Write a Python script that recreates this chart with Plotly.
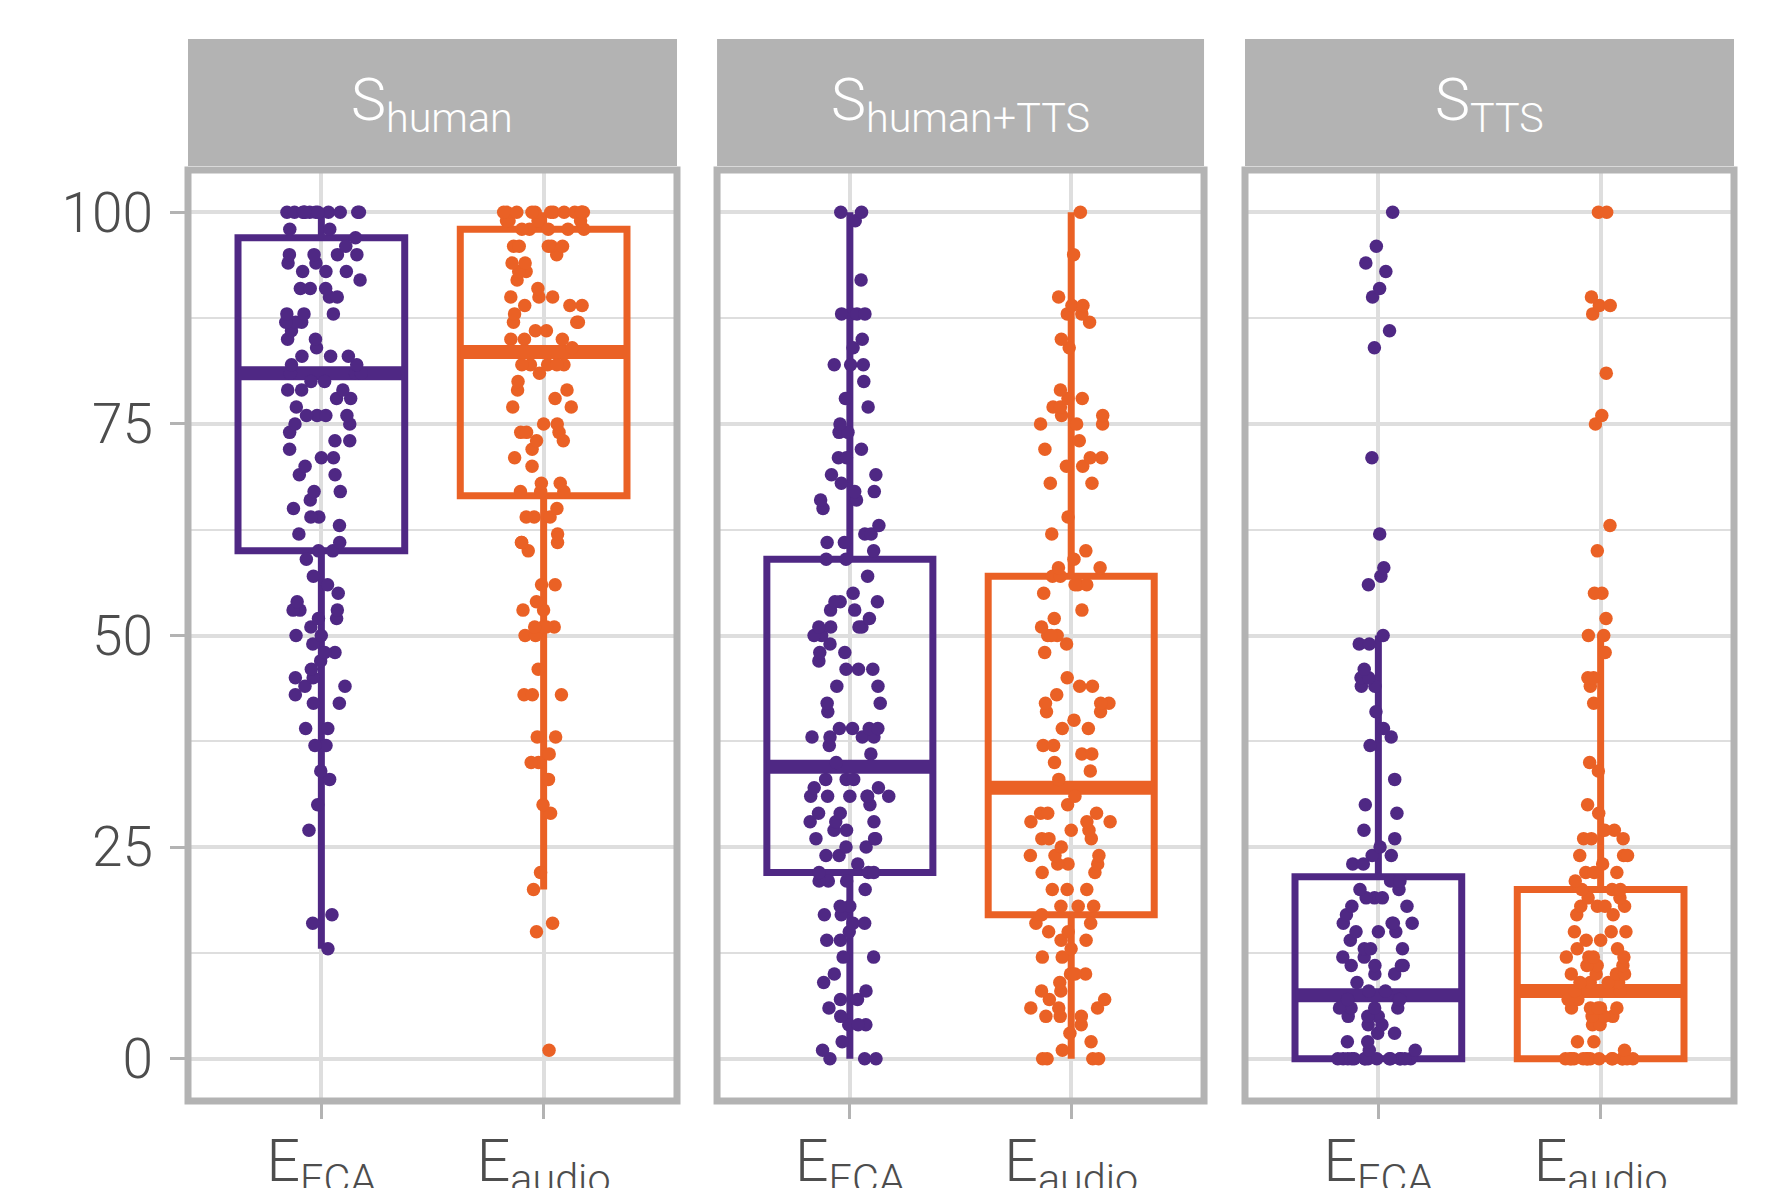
import plotly.graph_objects as go

# ---------------- data ----------------
facets = ["S<sub>human</sub>", "S<sub>human+TTS</sub>", "S<sub>TTS</sub>"]
conditions = ["E<sub>ECA</sub>", "E<sub>audio</sub>"]
y_ticks = [0, 25, 50, 75, 100]
y_minor = [12.5, 37.5, 62.5, 87.5]

# box statistics: [lower whisker, q1, median, q3, upper whisker]
stats_human_eca = [13, 60, 81, 97, 100]
stats_human_audio = [20, 66.5, 83.5, 98, 100]
stats_htts_eca = [0, 22, 34.5, 59, 100]
stats_htts_audio = [0, 17, 32, 57, 100]
stats_tts_eca = [0, 0, 7.5, 21.5, 50]
stats_tts_audio = [0, 0, 8, 20, 50]

# individual ratings (jittered points)
human_eca = [100, 100, 100, 100, 100, 100, 100, 100, 100, 100, 100, 100,
             98, 98, 97, 96, 95, 95, 95, 95, 94, 94, 93, 93, 93, 92, 91, 91, 91,
             90, 90, 88, 88, 88, 87, 87, 87, 86, 85, 85, 84, 83, 83, 83, 82, 82,
             81, 81, 81, 80, 80, 79, 79, 79, 78, 78, 77, 76, 76, 76, 76, 75, 75,
             74, 73, 73, 72, 71, 71, 70, 69, 69, 67, 67, 66, 65, 64, 64, 63, 62,
             61, 60, 60, 59, 57, 56, 55, 54, 53, 53, 53, 52, 52, 51, 50, 50, 49,
             48, 48, 47, 46, 45, 45, 44, 44, 43, 42, 42, 39, 39, 37, 37, 34, 33,
             30, 27, 17, 16, 13]
human_audio = [100, 100, 100, 100, 100, 100, 100, 100, 100, 100, 100, 100,
               99, 99, 99, 99, 98, 98, 98, 98, 98, 96, 96, 96, 96, 96, 95, 94, 94,
               93, 93, 92, 91, 90, 90, 90, 89, 89, 89, 88, 87, 87, 87, 86, 86,
               85, 85, 85, 84, 82, 82, 82, 82, 82, 81, 80, 79, 79, 78, 77, 77,
               75, 75, 74, 74, 74, 73, 73, 72, 71, 70, 68, 68, 67, 67, 67, 65,
               64, 64, 64, 62, 61, 61, 61, 60, 56, 56, 54, 53, 53, 51, 51, 51, 51,
               50, 50, 46, 43, 43, 43, 38, 38, 36, 35, 35, 33, 30, 29, 22, 20, 16,
               15, 1]
htts_eca = [100, 100, 99, 92, 88, 88, 88, 88, 85, 84, 82, 82, 82, 80, 78, 77, 75,
            74, 74, 72, 71, 71, 69, 69, 68, 67, 67, 66, 66, 65, 63, 62, 62, 61, 61,
            60, 59, 59, 57, 55, 54, 54, 54, 53, 53, 52, 51, 51, 51, 51, 50, 50, 49,
            48, 48, 47, 46, 46, 46, 44, 44, 42, 42, 41, 39, 39, 39, 39, 38, 38, 38,
            38, 37, 36, 35, 33, 33, 33, 32, 32, 31, 31, 31, 31, 31, 31, 30, 29, 29,
            28, 28, 28, 27, 27, 26, 26, 26, 25, 25, 24, 24, 23, 22, 22, 22, 21, 21,
            21, 20, 18, 18, 17, 17, 16, 16, 15, 14, 14, 12, 12, 10, 9, 8, 7, 7, 6,
            5, 4, 4, 4, 2, 1, 0, 0, 0]
htts_audio = [100, 95, 90, 89, 89, 88, 88, 87, 85, 84, 79, 78, 78, 77, 77, 76, 76,
              75, 75, 75, 73, 72, 71, 71, 70, 70, 68, 68, 64, 62, 60, 59, 58, 58,
              57, 57, 56, 56, 56, 55, 53, 52, 51, 50, 50, 50, 49, 48, 45, 44, 44,
              43, 42, 42, 42, 41, 41, 40, 39, 39, 37, 37, 36, 36, 35, 34, 33, 31,
              30, 29, 29, 29, 28, 28, 28, 27, 27, 26, 26, 26, 25, 24, 24, 24, 23,
              23, 23, 22, 22, 20, 20, 20, 18, 18, 18, 17, 16, 16, 15, 15, 14, 14,
              13, 12, 12, 10, 10, 10, 9, 8, 8, 7, 7, 6, 6, 6, 5, 5, 5, 4, 3, 2, 1,
              0, 0, 0, 0]
tts_eca = [100, 96, 94, 93, 91, 90, 86, 84, 71, 62, 58, 57, 56, 50, 49, 49, 46,
           45, 45, 44, 44, 41, 39, 38, 37, 33, 30, 29, 27, 26, 25, 24, 24, 23, 23,
           21, 21, 20, 20, 19, 19, 19, 18, 18, 17, 16, 16, 16, 16, 15, 15, 15, 14,
           13, 13, 13, 12, 12, 11, 11, 11, 11, 10, 10, 9, 8, 8, 7, 7, 7, 6, 6, 6,
           6, 5, 5, 5, 4, 4, 3, 3, 2, 2, 1, 1,
           0, 0, 0, 0, 0, 0, 0, 0, 0, 0, 0, 0, 0, 0, 0]
tts_audio = [100, 100, 90, 89, 89, 88, 81, 76, 75, 63, 60, 55, 55, 52, 50, 50, 48,
             45, 45, 44, 42, 35, 34, 30, 29, 27, 27, 26, 26, 26, 24, 24, 24, 23,
             22, 22, 22, 21, 20, 20, 20, 19, 19, 18, 18, 18, 18, 17, 17, 15, 15,
             15, 14, 14, 13, 13, 12, 12, 12, 12, 11, 11, 11, 10, 10, 10, 10, 9, 9,
             9, 9, 8, 8, 7, 7, 6, 6, 6, 6, 6, 5, 5, 5, 4, 4, 2, 2, 1,
             0, 0, 0, 0, 0, 0, 0, 0, 0, 0, 0, 0, 0, 0, 0]

panel_stats = [[stats_human_eca, stats_human_audio],
               [stats_htts_eca, stats_htts_audio],
               [stats_tts_eca, stats_tts_audio]]
panel_points = [[human_eca, human_audio],
                [htts_eca, htts_audio],
                [tts_eca, tts_audio]]

# ---------------- style ----------------
W, H = 1781, 1188
PAGE_OFF = 8                      # default body margin of the html page
ML, MR, MT, MB = 180, 55, 162, 95  # plot area on page: x 188..1734, y 170..1101
PLOT_BOTTOM = PAGE_OFF + H - MB
PH = H - MT - MB
colors = ["#4F2884", "#EA6125"]
GRID = "#dedede"
FRAME = "#b3b3b3"
TXT = "#4d4d4d"
FONT = "Roboto"
domains = [[0.0, 0.3163], [0.3422, 0.6572], [0.6837, 1.0]]
BOXW = 0.75

fig = go.Figure()
for p in range(3):
    xa = "x" if p == 0 else f"x{p+1}"
    ya = "y" if p == 0 else f"y{p+1}"
    for c in range(2):
        lf, q1, med, q3, uf = panel_stats[p][c]
        pos = c + 1
        # box with whiskers
        fig.add_trace(go.Box(
            x=[pos], q1=[q1], median=[med], q3=[q3],
            lowerfence=[lf], upperfence=[uf],
            width=BOXW, whiskerwidth=0, boxpoints=False,
            line=dict(color=colors[c], width=7),
            fillcolor="rgba(0,0,0,0)", xaxis=xa, yaxis=ya,
            showlegend=False, hoverinfo="skip"))
        # thicker median line
        fig.add_trace(go.Box(
            x=[pos], q1=[med], median=[med], q3=[med],
            lowerfence=[med], upperfence=[med],
            width=BOXW, whiskerwidth=0, boxpoints=False,
            line=dict(color=colors[c], width=14),
            fillcolor="rgba(0,0,0,0)", xaxis=xa, yaxis=ya,
            showlegend=False, hoverinfo="skip"))
    for c in range(2):
        pos = c + 1
        fig.add_trace(go.Box(
            y=panel_points[p][c], x0=pos, width=BOXW,
            boxpoints="all", jitter=0.5, pointpos=0,
            marker=dict(color=colors[c], size=13.5, line=dict(width=0)),
            line=dict(width=0), fillcolor="rgba(0,0,0,0)",
            xaxis=xa, yaxis=ya, showlegend=False, hoverinfo="y"))

axis_common = dict(showline=False, zeroline=False, ticks="outside",
                   ticklen=17, tickwidth=3, tickcolor=FRAME, automargin=False,
                   showgrid=True, gridcolor=GRID)
shapes = []
annotations = []
layout_axes = {}
for p in range(3):
    xk = "xaxis" if p == 0 else f"xaxis{p+1}"
    yk = "yaxis" if p == 0 else f"yaxis{p+1}"
    xa = "x" if p == 0 else f"x{p+1}"
    ya = "y" if p == 0 else f"y{p+1}"
    layout_axes[xk] = dict(axis_common, domain=domains[p], anchor=ya,
                           range=[0.4, 2.6], tickvals=[1, 2], ticktext=conditions,
                           gridwidth=4, ticklabelstandoff=-9,
                           tickfont=dict(family=FONT, size=59, color=TXT, weight=300))
    ydict = dict(axis_common, domain=[0, 1], anchor=xa, range=[-5, 105],
                 tickvals=y_ticks, gridwidth=3.5,
                 minor=dict(tickvals=y_minor, showgrid=True, gridcolor=GRID,
                            gridwidth=2, ticks=""),
                 tickfont=dict(family=FONT, size=55, color=TXT, weight=300))
    if p == 0:
        ydict["ticklabelstandoff"] = 6
    else:
        ydict["showticklabels"] = False
        ydict["ticks"] = ""
    layout_axes[yk] = ydict
    # panel border
    shapes.append(dict(type="rect", xref=f"{xa} domain", yref=f"{ya} domain",
                       x0=0, x1=1, y0=0, y1=1, layer="above",
                       line=dict(color=FRAME, width=7)))
    # strip
    shapes.append(dict(type="rect", xref=f"{xa} domain", yref="paper",
                       x0=0, x1=1, y0=(PLOT_BOTTOM - 166) / PH,
                       y1=(PLOT_BOTTOM - 39) / PH,
                       fillcolor=FRAME, line=dict(width=0), layer="above"))
    annotations.append(dict(text=facets[p], xref=f"{xa} domain", yref="paper",
                            x=0.5, y=(PLOT_BOTTOM - 104) / PH, xanchor="center",
                            yanchor="middle", showarrow=False,
                            font=dict(family=FONT, size=59, color="white", weight=300)))

fig.update_layout(
    width=W, height=H,
    margin=dict(l=ML, r=MR, t=MT, b=MB),
    plot_bgcolor="white", paper_bgcolor="white",
    boxmode="overlay", showlegend=False,
    shapes=shapes, annotations=annotations,
    **layout_axes)

fig.write_html("out.html")
